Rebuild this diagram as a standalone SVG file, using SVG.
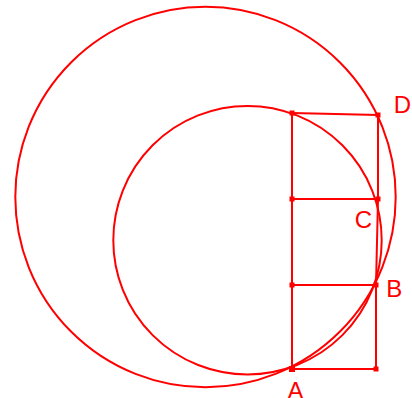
<svg xmlns="http://www.w3.org/2000/svg" width="412" height="398" viewBox="0 0 412 398">
<style>
.c{fill:none;stroke:#f00;stroke-width:2}
.l{fill:none;stroke:#f00;stroke-width:2}
.p{fill:#f00}
.t{fill:#f00;font-family:"Liberation Sans",Arial,sans-serif;font-size:24px}
</style>
<rect width="412" height="398" fill="#fff"/>
<g id="circles">
<circle id="bigCircle" class="c" cx="205.5" cy="197" r="190.2"/>
<circle id="smallCircle" class="c" cx="247.5" cy="240.2" r="134.2"/>
</g>
<g id="connectors">
<polyline class="l" points="292,113 292,368"/>
<polyline class="l" points="292,113 378,115 378,199 376,285 376,369 292,369"/>
<line class="l" x1="292" y1="199" x2="378" y2="199"/>
<line class="l" x1="292" y1="285" x2="376" y2="285"/>
</g>
<g id="points">
<rect class="p" x="289.5" y="110.5" width="5" height="5"/>
<rect class="p" x="375.5" y="112.5" width="5" height="5"/>
<rect class="p" x="289.5" y="196.5" width="5" height="5"/>
<rect class="p" x="375.5" y="196.5" width="5" height="5"/>
<rect class="p" x="289.5" y="282.5" width="5" height="5"/>
<rect class="p" x="373.5" y="282.5" width="5" height="5"/>
<rect class="p" x="289" y="366" width="6" height="6"/>
<rect class="p" x="373.5" y="366.5" width="5" height="5"/>
</g>
<g id="labels">
<text id="labelA" class="t" x="287.5" y="399">A</text>
<text id="labelB" class="t" x="386.3" y="297.3">B</text>
<text id="labelC" class="t" x="354.8" y="227.8">C</text>
<text id="labelD" class="t" x="393.8" y="112.7">D</text>
</g>
</svg>
